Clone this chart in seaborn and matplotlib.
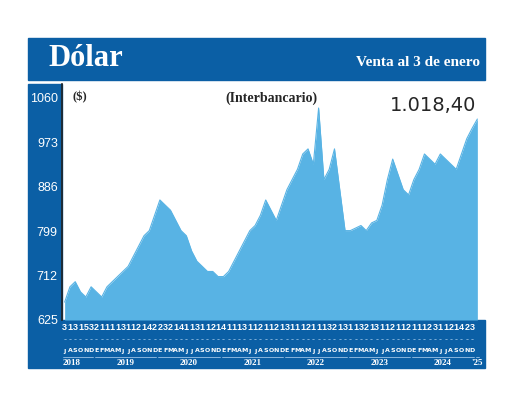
import matplotlib
matplotlib.use("Agg")
import matplotlib.pyplot as plt
import matplotlib.patches as mp
import matplotlib.transforms as mt
import seaborn as sns
import pandas as pd
import numpy as np

months = pd.date_range("2018-07-01", "2025-01-01", freq="MS")
values = [660, 690, 700, 680, 670, 690,
          680, 670, 690, 700, 710, 720, 730, 750, 770, 790, 800, 830,
          860, 850, 840, 820, 800, 790, 760, 740, 730, 720, 720, 710,
          710, 720, 740, 760, 780, 800, 810, 830, 860, 840, 820, 850,
          880, 900, 920, 950, 960, 930, 1040, 900, 920, 960, 880, 800,
          800, 805, 810, 800, 815, 820, 850, 900, 940, 910, 880, 870,
          900, 920, 950, 940, 930, 950, 940, 930, 920, 950, 980, 1000,
          1018.4]
day_digits = "3131532111131121422321411311214111311211213111211132131132131121121112311214 23".replace(" ", "")
month_letters = list("JASOND") + list("EFMAMJJASOND") * 6
year_labels = ["2018", "2019", "2020", "2021", "2022", "2023", "2024", "'25"]
yticks = [625, 712, 799, 886, 973, 1060]

sns.set_theme(style="white")
W, H = 520, 404
fig = plt.figure(figsize=(5.2, 4.04), dpi=100)
dark = "#0b5fa5"
area = "#58b3e4"
def fx(p): return p / W
def fy(p): return 1 - p / H

for r in [(28, 80, 457, 42), (28, 320, 34, 236), (28, 368, 457, 48)]:
    fig.patches.append(mp.Rectangle((fx(r[0]), fy(r[1])), fx(r[2]), r[3] / H,
                                    transform=fig.transFigure, color=dark, zorder=-5))
fig.text(fx(48), fy(59), "Dólar", color="white", fontsize=22, fontweight="bold", family="Liberation Serif", va="center")
fig.text(fx(480), fy(62), "Venta al 3 de enero", color="white", fontsize=11, family="Liberation Serif", fontweight="bold", va="center", ha="right")

ax = fig.add_axes([fx(62), fy(320), fx(418), 236 / H])
ax.set_facecolor("none")
x = np.arange(len(values))
df = pd.DataFrame({"x": x, "v": values})
ax.fill_between(df["x"], 625, df["v"], color=area, lw=0)
sns.lineplot(data=df, x="x", y="v", ax=ax, color=area, lw=0.8)
ax.set_xlim(-0.5, len(values) - 0.5)
ax.set_ylim(625, 1087)
ax.set_yticks(yticks)
ax.set_yticklabels([str(t) for t in yticks], color="white", fontsize=9, family="Liberation Sans")
ax.tick_params(axis="y", length=0, pad=3)
ax.set_xticks([])
ax.set_xlabel(""); ax.set_ylabel("")
for s in ["top", "right", "bottom"]:
    ax.spines[s].set_visible(False)
ax.spines["left"].set_color("#222222")
ax.spines["left"].set_linewidth(1.2)

ax.text(0.025, 0.97, "($)", transform=ax.transAxes, fontsize=9, fontweight="bold", family="Liberation Serif", va="top")
ax.text(0.5, 0.97, "(Interbancario)", transform=ax.transAxes, fontsize=10, fontweight="bold", family="Liberation Serif", va="top", ha="center")
ax.text(0.99, 0.95, "1.018,40", transform=ax.transAxes, fontsize=14, family="DejaVu Sans", va="top", ha="right")

tr = mt.blended_transform_factory(ax.transData, fig.transFigure)
for i, d in enumerate(day_digits):
    ax.text(i, fy(328), d, transform=tr, color="white", fontsize=6.5, ha="center", va="center", family="Liberation Sans", fontweight="bold", clip_on=False)
    ax.text(i, fy(340), "-", transform=tr, color="#9cc3e6", fontsize=6, ha="center", va="center", clip_on=False)
for i, m in enumerate(month_letters):
    ax.text(i, fy(351), m, transform=tr, color="white", fontsize=4.5, ha="center", va="center", fontweight="bold", clip_on=False)
starts = [0, 6, 18, 30, 42, 54, 66, 78]
ends = [6, 18, 30, 42, 54, 66, 78, 79]
for s, e, lab in zip(starts, ends, year_labels):
    ax.plot([s - 0.3, e - 0.7], [fy(357)] * 2, transform=tr, color="#9cc3e6", lw=0.6, clip_on=False)
    xc = s - 0.3 if s == 0 else (s + e - 1) / 2
    ax.text(xc, fy(363), lab, transform=tr, color="white", fontsize=6.5, fontweight="bold", ha="left" if s == 0 else "center", va="center", family="Liberation Serif", clip_on=False)

fig.savefig("out.png", dpi=100)
